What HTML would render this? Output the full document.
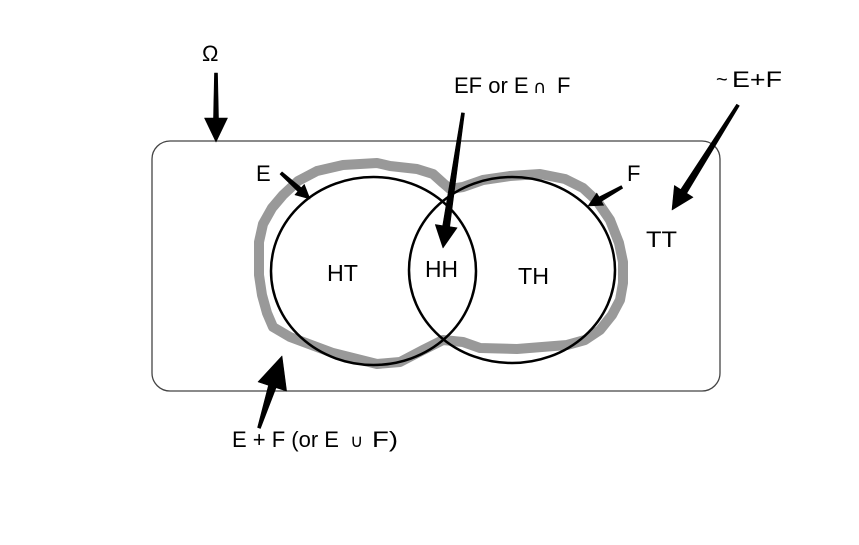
<!DOCTYPE html>
<html>
<head>
<meta charset="utf-8">
<style>
  html, body { margin: 0; padding: 0; background: #ffffff; }
  body { width: 859px; height: 545px; overflow: hidden; }
  svg { display: block; }
  text { font-family: "Liberation Sans", "DejaVu Sans", sans-serif; fill: #000; }
</style>
</head>
<body>
<svg width="859" height="545" viewBox="0 0 859 545" xmlns="http://www.w3.org/2000/svg">
  <rect x="0" y="0" width="859" height="545" fill="#ffffff"/>

  <!-- sample space rectangle -->
  <rect x="152" y="141" width="568" height="250" rx="18" ry="18" fill="none" stroke="#444" stroke-width="1.3"/>

  <!-- gray union outline -->
  <polygon fill="none" stroke="#999999" stroke-width="10" stroke-linejoin="round"
    points="259,258 259,242 263,224 272,208 283,195 298,181 317,171 343,165 377,163 390,166 417,169 433,174 443,183 450,189 463,187 483,180 510,176 540,174 565,179 583,188 597,201 610,220 619,243 623,262 623,283 620,300 612,315 600,330 585,340 567,345 517,349 480,348 463,342 443,340 423,350 400,362 377,364 333,353 290,337 273,327 267,313 262,295 259,275"/>

  <!-- circles E and F -->
  <ellipse cx="373.5" cy="271" rx="102.5" ry="94" fill="none" stroke="#000" stroke-width="2.5"/>
  <ellipse cx="512" cy="270" rx="103" ry="93" fill="none" stroke="#000" stroke-width="2.5"/>

  <!-- region labels -->
  <text x="327" y="281" font-size="23" textLength="31" lengthAdjust="spacingAndGlyphs">HT</text>
  <text x="425" y="277" font-size="23" textLength="33" lengthAdjust="spacingAndGlyphs">HH</text>
  <text x="518" y="284" font-size="23" textLength="31" lengthAdjust="spacingAndGlyphs">TH</text>
  <text x="646" y="247" font-size="22" textLength="31" lengthAdjust="spacingAndGlyphs">TT</text>

  <!-- outer labels -->
  <text x="202" y="61" font-size="22">Ω</text>

  <text x="454" y="93" font-size="22">EF or E</text>
  <text x="533" y="93" font-size="18" style="font-family:'DejaVu Sans',sans-serif">∩</text>
  <text x="557" y="93" font-size="22">F</text>

  <text x="716" y="86" font-size="20">~</text>
  <text x="732" y="87" font-size="22" textLength="50" lengthAdjust="spacingAndGlyphs">E+F</text>

  <text x="256" y="181" font-size="22">E</text>
  <text x="627" y="181" font-size="22">F</text>

  <text x="232" y="447" font-size="22">E + F (or E</text>
  <text x="350" y="447" font-size="18" style="font-family:'DejaVu Sans',sans-serif">∪</text>
  <text x="372" y="447" font-size="22" textLength="26" lengthAdjust="spacingAndGlyphs">F)</text>

  <!-- arrows -->
  <g fill="#000" stroke="#000" stroke-width="0.6" stroke-linejoin="round">
    <!-- Omega arrow -->
    <polygon points="214.5,73 213.5,118 204.5,118 216,142 227.5,118 218.5,118 217.5,73"/>
    <!-- EF arrow -->
    <polygon points="461.5,112.8 442.7,225.7 435.3,224.6 443,248 457.1,227.8 449.7,226.7 464.5,113.2"/>
    <!-- ~E+F arrow -->
    <polygon points="736.7,104.2 680.7,189.5 674.4,185.5 672,210 693.0,197.3 686.7,193.3 739.3,105.8"/>
    <!-- E arrow -->
    <polygon points="280,174.1 297.9,191.5 294.9,194.8 310,199 304.3,184.4 301.3,187.7 282,171.9"/>
    <!-- F arrow -->
    <polygon points="621.3,185.7 599,197 596.8,193.1 588,206 603.6,205.3 601.4,201.4 622.7,188.3"/>
    <!-- E+F arrow -->
    <polygon points="257.6,427.5 268.5,385.3 258,381.9 282,356 286.6,391.1 276.1,387.7 260.4,428.5"/>
  </g>
</svg>
</body>
</html>
